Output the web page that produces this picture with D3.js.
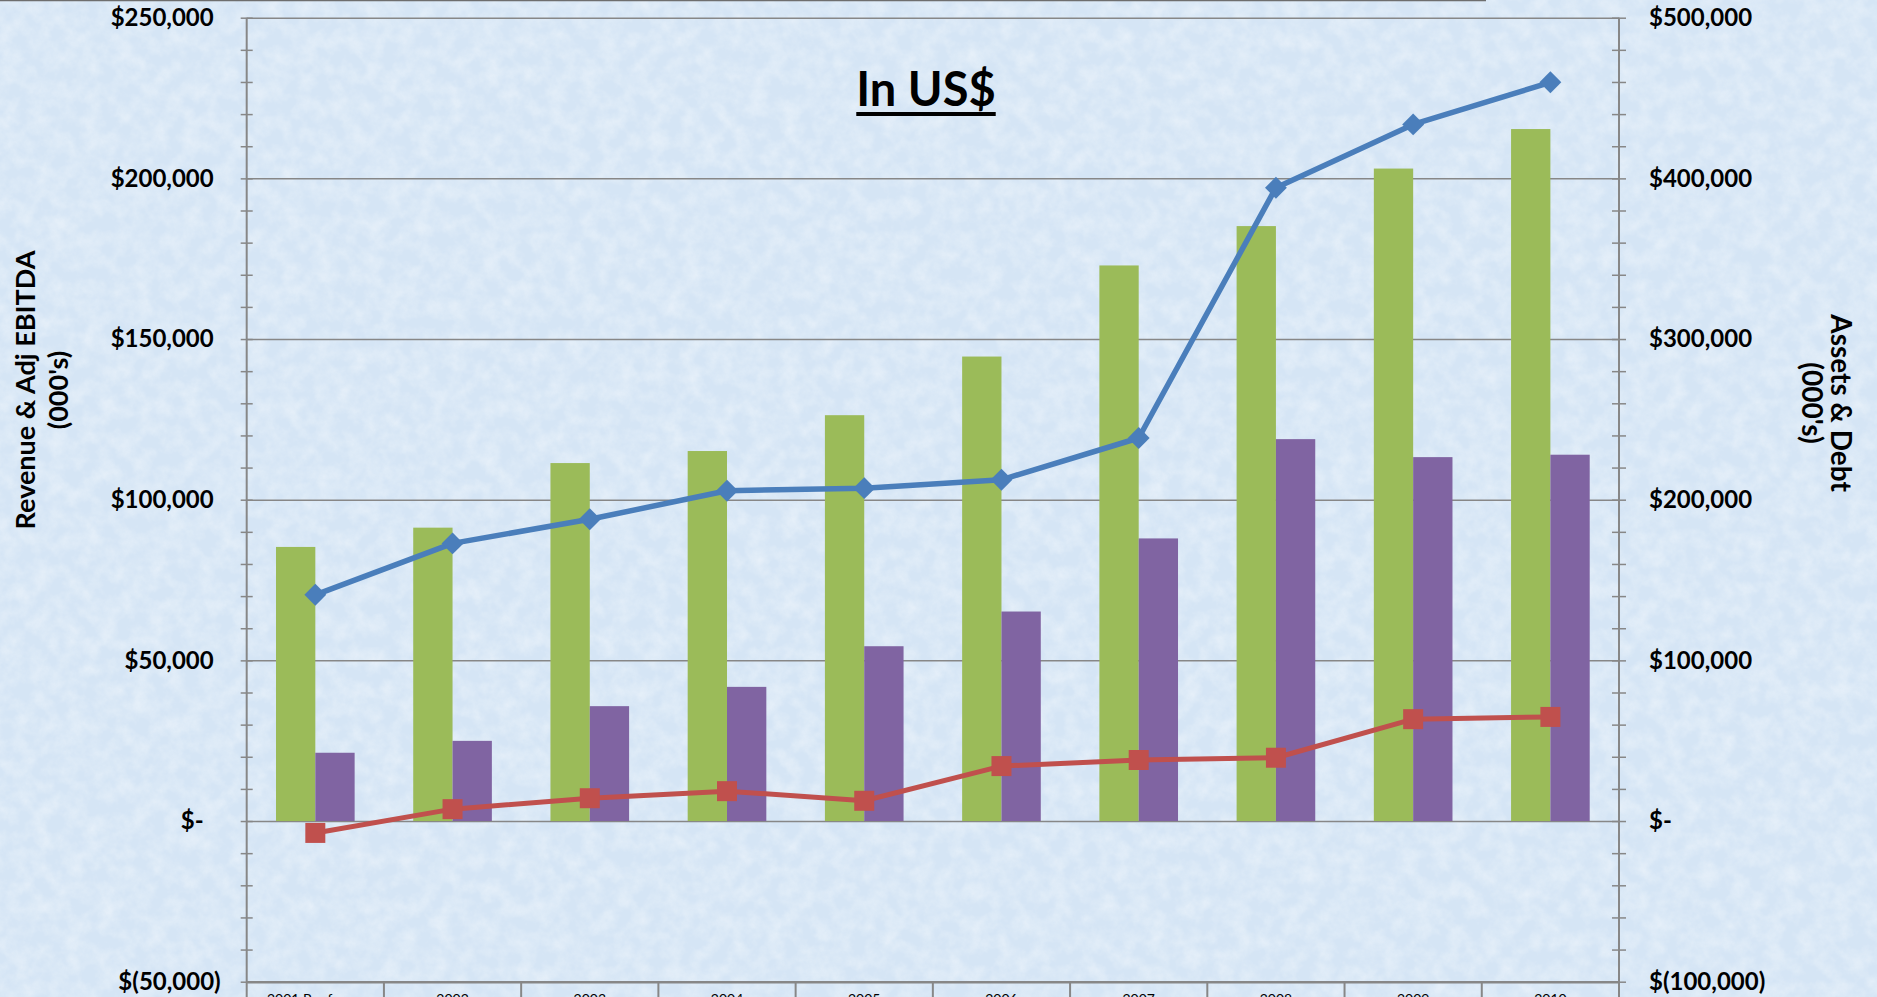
<!DOCTYPE html>
<html>
<head>
<meta charset="utf-8">
<script src="https://cdn.jsdelivr.net/npm/d3@7"></script>
<style>
  html, body { margin: 0; padding: 0; background: #dae8f6; }
  svg { display: block; }
  text { font-family: Lato, "Open Sans", sans-serif; }
</style>
</head>
<body>
<svg id="chart" width="1877" height="997"></svg>
<script>
// ---- data ----
const categories = ["2001  Pro forma", "2002", "2003", "2004", "2005", "2006", "2007", "2008", "2009", "2010"];
const revenue   = [70400, 86400, 93900, 102800, 103600, 106200, 119200, 197100, 216800, 229900];
const adjEbitda = [-3700, 3700, 7100, 9300, 6300, 17100, 19000, 19700, 31700, 32400];
const assets    = [170600, 182600, 222800, 230300, 252600, 289100, 345800, 370300, 406100, 430700];
const debt      = [42500, 49900, 71500, 83500, 108800, 130400, 175900, 237700, 226500, 228000];
const leftTickValues  = [-50000, 0, 50000, 100000, 150000, 200000, 250000];
const rightTickValues = [-100000, 0, 100000, 200000, 300000, 400000, 500000];
const titleText = "In US$";
const leftTitle = ["Revenue & Adj EBITDA", "(000's)"];
const rightTitle = ["Assets & Debt", "(000's)"];

// ---- layout ----
const W = 1877, H = 997;
const L = 246.7, R = 1619, T = 17.7, B = 981.7;
const svg = d3.select("#chart");

// background texture
const defs = svg.append("defs");
const f = defs.append("filter").attr("id", "tex").attr("x", 0).attr("y", 0).attr("width", "100%").attr("height", "100%");
f.append("feTurbulence").attr("type", "fractalNoise").attr("baseFrequency", 0.06).attr("numOctaves", 4).attr("seed", 7);
f.append("feColorMatrix").attr("type", "matrix")
  .attr("values", "0 0 0 0 1  0 0 0 0 1  0 0 0 0 1  1.5 0 0 0 -0.5");
svg.append("rect").attr("width", W).attr("height", H).attr("fill", "#d5e5f5");
svg.append("rect").attr("width", W).attr("height", H).attr("filter", "url(#tex)").attr("opacity", 0.45);
svg.append("line").attr("x1", 0).attr("x2", 1486).attr("y1", 0.5).attr("y2", 0.5).attr("stroke", "#6e6e6e").attr("stroke-width", 1.5);

// ---- scales ----
const x0 = d3.scaleBand().domain(categories).range([L, R]).paddingInner(0).paddingOuter(0);
const x1 = d3.scaleBand().domain(["assets", "debt"]).range([0, x0.bandwidth()]).paddingInner(0).paddingOuter(0.745);
const yL = d3.scaleLinear().domain([-50000, 250000]).range([B, T]);
const yR = d3.scaleLinear().domain([-100000, 500000]).range([B, T]);

const fmt = d3.format(",");
const acct = v => v === 0 ? "$-" : (v < 0 ? "$(" + fmt(-v) + ")" : "$" + fmt(v));
const gray = "#878787";

// gridlines
const grid = svg.append("g").attr("transform", `translate(${L},0)`)
  .call(d3.axisLeft(yL).tickValues(leftTickValues).tickSize(-(R - L)).tickFormat(""));
grid.selectAll("line").attr("stroke", gray).attr("stroke-width", 1.5);
grid.select(".domain").remove();

// left minor/major ticks crossing the axis
const minorL = yL.ticks(30);
[d3.axisLeft, d3.axisRight].forEach(ax => {
  const g = svg.append("g").attr("transform", `translate(${L},0)`)
    .call(ax(yL).tickValues(minorL).tickSize(6).tickFormat(""));
  g.selectAll("line").attr("stroke", gray).attr("stroke-width", 1.5);
  g.select(".domain").remove();
});
const minorR = yR.ticks(30);
[d3.axisLeft, d3.axisRight].forEach(ax => {
  const g = svg.append("g").attr("transform", `translate(${R},0)`)
    .call(ax(yR).tickValues(minorR).tickSize(7).tickFormat(""));
  g.selectAll("line").attr("stroke", gray).attr("stroke-width", 1.5);
  g.select(".domain").remove();
});

// axis lines (extend below plot)
svg.append("line").attr("x1", L).attr("x2", L).attr("y1", T).attr("y2", H + 2).attr("stroke", gray).attr("stroke-width", 2);
svg.append("line").attr("x1", R).attr("x2", R).attr("y1", T).attr("y2", H + 2).attr("stroke", gray).attr("stroke-width", 2);

// left labels
const gLeft = svg.append("g").attr("transform", `translate(${L},0)`)
  .call(d3.axisLeft(yL).tickValues(leftTickValues).tickSize(0).tickPadding(0).tickFormat(acct));
gLeft.select(".domain").remove();
gLeft.selectAll("text")
  .attr("font-size", 24).attr("font-weight", "bold").attr("fill", "#000")
  .attr("x", d => d > 0 ? -33 : (d === 0 ? -43 : -26));

// right labels
const gRight = svg.append("g").attr("transform", `translate(${R},0)`)
  .call(d3.axisRight(yR).tickValues(rightTickValues).tickSize(0).tickPadding(30).tickFormat(acct));
gRight.select(".domain").remove();
gRight.selectAll("text").attr("font-size", 24).attr("font-weight", "bold").attr("fill", "#000");

// bars (assets & debt on the right axis)
const barData = categories.map((c, i) => ({ c, assets: assets[i], debt: debt[i] }));
const colors = { assets: "#9bbb59", debt: "#8064a2" };
const gb = svg.append("g");
barData.forEach(d => {
  ["assets", "debt"].forEach(k => {
    gb.append("rect")
      .attr("x", x0(d.c) + x1(k))
      .attr("width", x1.bandwidth())
      .attr("y", Math.min(yR(d[k]), yR(0)))
      .attr("height", Math.abs(yR(d[k]) - yR(0)))
      .attr("fill", colors[k]);
  });
});

// bottom axis
const gx = svg.append("g").attr("transform", `translate(0,${B})`)
  .call(d3.axisBottom(x0).tickSize(0).tickPadding(12));
gx.select(".domain").attr("stroke", gray).attr("stroke-width", 2.5);
gx.selectAll("text").attr("font-size", 14).attr("fill", "#000");
// category separators
svg.append("g").selectAll("line").data(categories.slice(1)).join("line")
  .attr("x1", d => x0(d)).attr("x2", d => x0(d))
  .attr("y1", B).attr("y2", H + 2)
  .attr("stroke", gray).attr("stroke-width", 2);

// lines (left axis)
const cx = c => x0(c) + x0.bandwidth() / 2;
const line = d3.line().x(d => cx(d.c)).y(d => yL(d.v));
const ebitdaData = categories.map((c, i) => ({ c, v: adjEbitda[i] }));
const revData = categories.map((c, i) => ({ c, v: revenue[i] }));

svg.append("path").datum(ebitdaData).attr("d", line)
  .attr("fill", "none").attr("stroke", "#c0504d").attr("stroke-width", 5).attr("stroke-linejoin", "round");
svg.append("g").selectAll("path").data(ebitdaData).join("path")
  .attr("d", d3.symbol().type(d3.symbolSquare).size(400))
  .attr("transform", d => `translate(${cx(d.c)},${yL(d.v)})`)
  .attr("fill", "#c0504d");

svg.append("path").datum(revData).attr("d", line)
  .attr("fill", "none").attr("stroke", "#4a7ebb").attr("stroke-width", 5.5).attr("stroke-linejoin", "round");
svg.append("g").selectAll("path").data(revData).join("path")
  .attr("d", d3.symbol().type(d3.symbolSquare).size(240))
  .attr("transform", d => `translate(${cx(d.c)},${yL(d.v)}) rotate(45)`)
  .attr("fill", "#4a7ebb");

// title
const tt = svg.append("text").attr("x", 926).attr("y", 106).attr("text-anchor", "middle")
  .attr("font-size", 47).attr("font-weight", "bold").attr("fill", "#000").text(titleText);
const bb = tt.node().getBBox();
svg.append("line").attr("x1", bb.x).attr("x2", bb.x + bb.width).attr("y1", 114).attr("y2", 114)
  .attr("stroke", "#000").attr("stroke-width", 4);

// axis titles
const lt = svg.append("text").attr("transform", "translate(0,390) rotate(-90)")
  .attr("text-anchor", "middle").attr("font-size", 27).attr("font-weight", "bold").attr("fill", "#000");
lt.append("tspan").attr("x", 0).attr("y", 35).text(leftTitle[0]);
lt.append("tspan").attr("x", 0).attr("y", 68).text(leftTitle[1]);

const rt = svg.append("text").attr("transform", "translate(1877,403) rotate(90)")
  .attr("text-anchor", "middle").attr("font-size", 28).attr("font-weight", "bold").attr("fill", "#000");
rt.append("tspan").attr("x", 0).attr("y", 46).text(rightTitle[0]);
rt.append("tspan").attr("x", 0).attr("y", 75).text(rightTitle[1]);
</script>
</body>
</html>
